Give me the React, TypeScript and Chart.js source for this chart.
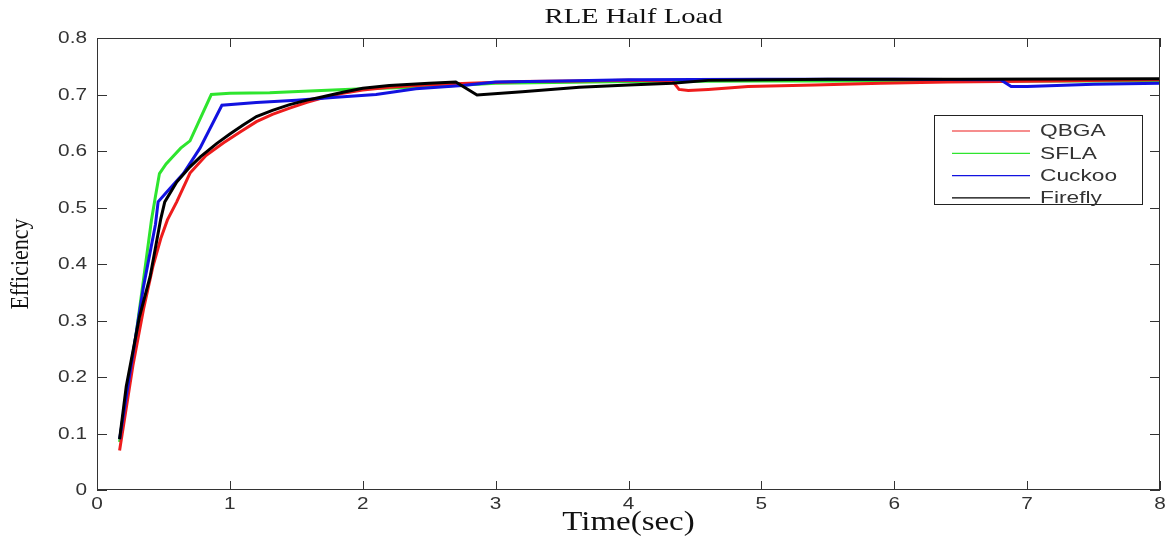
import React, { useEffect, useRef } from "react";
import { Chart, registerables } from "chart.js";

Chart.register(...registerables);

// Efficiency traces (time in seconds, efficiency as a fraction)
const qbgaTime = [0.17, 0.27, 0.35, 0.42, 0.48, 0.53, 0.6, 0.7, 0.82, 0.95, 1.08, 1.2, 1.32, 1.45, 1.58, 1.7, 1.85, 2.0, 2.2, 2.4, 2.6, 2.8, 3.2, 3.6, 4.0, 4.33, 4.38, 4.45, 4.6, 4.9, 5.4, 5.9, 6.4, 6.8, 7.2, 7.6, 8.0];
const qbgaEff = [0.07, 0.22, 0.32, 0.395, 0.445, 0.478, 0.51, 0.561, 0.592, 0.614, 0.634, 0.652, 0.665, 0.676, 0.686, 0.694, 0.702, 0.708, 0.713, 0.716, 0.718, 0.72, 0.723, 0.724, 0.725, 0.724, 0.709, 0.707, 0.709, 0.714, 0.717, 0.72, 0.722, 0.723, 0.724, 0.725, 0.726];

const sflaTime = [0.17, 0.2, 0.25, 0.35, 0.41, 0.44, 0.47, 0.52, 0.57, 0.63, 0.7, 0.86, 1.0, 1.3, 1.6, 2.0, 2.4, 2.7, 3.0, 4.0, 5.0, 6.0, 7.0, 8.0];
const sflaEff = [0.085, 0.136, 0.2, 0.372, 0.478, 0.52, 0.56, 0.577, 0.59, 0.605, 0.618, 0.7, 0.702, 0.703, 0.706, 0.71, 0.713, 0.716, 0.72, 0.723, 0.724, 0.724, 0.724, 0.724];

const cuckooTime = [0.17, 0.25, 0.35, 0.44, 0.46, 0.52, 0.65, 0.775, 0.94, 1.2, 1.5, 1.8, 2.1, 2.4, 2.75, 3.0, 3.5, 4.0, 5.0, 6.0, 6.8, 6.88, 7.0, 7.5, 8.0];
const cuckooEff = [0.09, 0.21, 0.36, 0.47, 0.51, 0.526, 0.56, 0.605, 0.681, 0.686, 0.69, 0.695, 0.7, 0.71, 0.716, 0.722, 0.724, 0.726, 0.727, 0.727, 0.726, 0.714, 0.714, 0.718, 0.72];

const fireflyTime = [0.17, 0.22, 0.32, 0.4, 0.48, 0.51, 0.6, 0.7, 0.78, 0.9, 1.0, 1.1, 1.2, 1.32, 1.45, 1.58, 1.7, 1.85, 2.0, 2.2, 2.5, 2.7, 2.86, 3.2, 3.63, 4.0, 4.33, 4.6, 5.5, 6.5, 8.0];
const fireflyEff = [0.09, 0.183, 0.307, 0.378, 0.48, 0.51, 0.545, 0.572, 0.59, 0.613, 0.63, 0.646, 0.661, 0.672, 0.682, 0.69, 0.696, 0.704, 0.711, 0.716, 0.72, 0.722, 0.699, 0.705, 0.713, 0.717, 0.72, 0.725, 0.727, 0.727, 0.728];

const seriesNames = ["QBGA", "SFLA", "Cuckoo", "Firefly"];
const seriesColors = ["#ee1c1c", "#2ee52e", "#1212e0", "#000000"];

const xTicks = [0, 1, 2, 3, 4, 5, 6, 7, 8];
const yTicks = [0, 0.1, 0.2, 0.3, 0.4, 0.5, 0.6, 0.7, 0.8];

const chartTitle = "RLE Half Load";
const xTitle = "Time(sec)";
const yTitle = "Efficiency";

const SANS = "'Liberation Sans', Arial, sans-serif";
const SERIF = "'Liberation Serif', 'Times New Roman', serif";

const toPoints = (t: number[], v: number[]) => t.map((x, i) => ({ x, y: v[i] }));

// Text drawn with a horizontal stretch factor (wide glyphs)
function wideText(ctx: CanvasRenderingContext2D, text: string, x: number, y: number, font: string, sx: number, align: CanvasTextAlign, color: string) {
  ctx.save();
  ctx.translate(x, y);
  ctx.scale(sx, 1);
  ctx.font = font;
  ctx.fillStyle = color;
  ctx.textAlign = align;
  ctx.textBaseline = "middle";
  ctx.fillText(text, 0, 0);
  ctx.restore();
}

// Box frame with inward ticks, tick labels, titles and an inset legend
const framePlugin = {
  id: "frame",
  afterDatasetsDraw(chart: any) {
    const { ctx, chartArea: a, scales } = chart;
    ctx.save();
    ctx.strokeStyle = "#333";
    ctx.lineWidth = 1;
    ctx.strokeRect(a.left + 0.5, a.top + 0.5, a.right - a.left - 1, a.bottom - a.top - 1);
    ctx.beginPath();
    xTicks.forEach((t) => {
      const x = Math.round(scales.x.getPixelForValue(t)) + 0.5;
      ctx.moveTo(x, a.bottom);
      ctx.lineTo(x, a.bottom - 9);
      ctx.moveTo(x, a.top);
      ctx.lineTo(x, a.top + 9);
    });
    yTicks.forEach((t) => {
      const y = Math.round(scales.y.getPixelForValue(t)) + 0.5;
      ctx.moveTo(a.left, y);
      ctx.lineTo(a.left + 10, y);
      ctx.moveTo(a.right, y);
      ctx.lineTo(a.right - 10, y);
    });
    ctx.stroke();

    // tick labels
    const tickFont = `16px ${SANS}`;
    xTicks.forEach((t) => {
      wideText(ctx, String(t), scales.x.getPixelForValue(t), 505, tickFont, 1.3, "center", "#333");
    });
    yTicks.forEach((t) => {
      const label = t === 0 ? "0" : t.toFixed(1);
      wideText(ctx, label, 87, scales.y.getPixelForValue(t) + 1, tickFont, 1.3, "right", "#333");
    });

    // legend
    const lx = 934, ly = 115, lw = 208, lh = 89;
    ctx.fillStyle = "#fff";
    ctx.fillRect(lx, ly, lw, lh);
    ctx.strokeStyle = "#222";
    ctx.lineWidth = 1;
    ctx.strokeRect(lx + 0.5, ly + 0.5, lw, lh);
    chart.data.datasets.forEach((ds: any, i: number) => {
      const y = 131 + i * 22.3;
      ctx.strokeStyle = ds.borderColor;
      ctx.lineWidth = 1.2;
      ctx.beginPath();
      ctx.moveTo(952, y);
      ctx.lineTo(1030, y);
      ctx.stroke();
      wideText(ctx, ds.label, 1040, y + 1, `16px ${SANS}`, 1.42, "left", "#333");
    });

    // chart and axis titles
    wideText(ctx, chartTitle, (a.left + a.right) / 2 + 5, 17, `22px ${SERIF}`, 1.3, "center", "#111");
    wideText(ctx, xTitle, (a.left + a.right) / 2, 523, `27px ${SERIF}`, 1.22, "center", "#111");
    ctx.save();
    ctx.translate(22, (a.top + a.bottom) / 2);
    ctx.rotate(-Math.PI / 2);
    ctx.scale(1, 1.1);
    ctx.font = `22px ${SERIF}`;
    ctx.fillStyle = "#111";
    ctx.textAlign = "center";
    ctx.textBaseline = "middle";
    ctx.fillText(yTitle, 0, 0);
    ctx.restore();

    ctx.restore();
  },
};

export default function App() {
  const ref = useRef<HTMLCanvasElement>(null);

  useEffect(() => {
    document.body.style.margin = "0";
    const traces = [
      toPoints(qbgaTime, qbgaEff),
      toPoints(sflaTime, sflaEff),
      toPoints(cuckooTime, cuckooEff),
      toPoints(fireflyTime, fireflyEff),
    ];
    const layer = [2, 3, 1, 0];
    const chart = new Chart(ref.current!, {
      type: "line",
      data: {
        datasets: traces.map((data, i) => ({
          label: seriesNames[i],
          data,
          borderColor: seriesColors[i],
          backgroundColor: seriesColors[i],
          borderWidth: 3,
          pointRadius: 0,
          tension: 0,
          fill: false,
          order: layer[i],
        })),
      },
      options: {
        animation: false,
        responsive: true,
        maintainAspectRatio: false,
        layout: { padding: { left: 0, right: 10, top: 38, bottom: 0 } },
        plugins: { legend: { display: false }, title: { display: false }, tooltip: { enabled: false } },
        scales: {
          x: {
            type: "linear",
            min: 0,
            max: 8,
            afterFit: (s: any) => { s.height = 51; },
            afterBuildTicks: (s: any) => { s.ticks = xTicks.map((v) => ({ value: v })); },
            grid: { display: false },
            border: { display: false },
            ticks: { display: false },
          },
          y: {
            type: "linear",
            min: 0,
            max: 0.8,
            afterFit: (s: any) => { s.width = 97; },
            afterBuildTicks: (s: any) => { s.ticks = yTicks.map((v) => ({ value: v })); },
            grid: { display: false },
            border: { display: false },
            ticks: { display: false },
          },
        },
      },
      plugins: [framePlugin],
    });
    return () => chart.destroy();
  }, []);

  return (
    <div style={{ width: 1170, height: 541, position: "relative", background: "#fff" }}>
      <canvas ref={ref} />
    </div>
  );
}
